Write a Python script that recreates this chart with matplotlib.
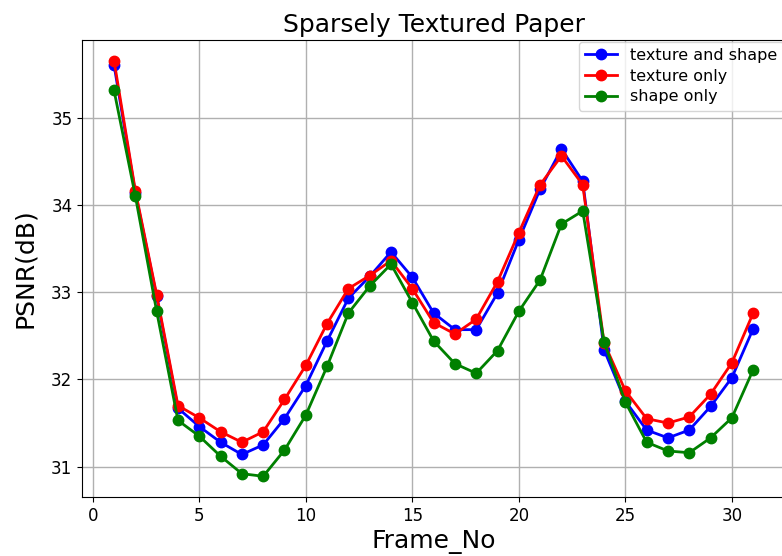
import matplotlib
matplotlib.use("Agg")
import matplotlib.pyplot as plt

frames = list(range(1, 32))

texture_and_shape = [35.60, 34.14, 32.95, 31.67, 31.46, 31.28, 31.14, 31.25, 31.55, 31.93,
                     32.44, 32.93, 33.18, 33.46, 33.17, 32.76, 32.57, 32.57, 32.99, 33.60,
                     34.18, 34.64, 34.27, 32.34, 31.75, 31.42, 31.33, 31.42, 31.69, 32.02,
                     32.58]
texture_only = [35.65, 34.16, 32.97, 31.70, 31.56, 31.40, 31.28, 31.40, 31.77, 32.16,
                32.64, 33.04, 33.19, 33.36, 33.04, 32.65, 32.52, 32.69, 33.12, 33.68,
                34.23, 34.56, 34.23, 32.42, 31.87, 31.55, 31.50, 31.57, 31.83, 32.19,
                32.76]
shape_only = [35.31, 34.10, 32.78, 31.53, 31.35, 31.12, 30.92, 30.89, 31.19, 31.59,
              32.15, 32.76, 33.07, 33.32, 32.88, 32.44, 32.18, 32.07, 32.33, 32.78,
              33.14, 33.78, 33.93, 32.43, 31.74, 31.28, 31.18, 31.16, 31.33, 31.56,
              32.11]

fig = plt.figure(figsize=(7.82, 5.56), dpi=100)
ax = fig.add_axes([0.105, 0.106, 0.899, 0.822])

ax.plot(frames, texture_and_shape, color='b', marker='o', lw=2, ms=7.5, label='texture and shape')
ax.plot(frames, texture_only, color='r', marker='o', lw=2, ms=7.5, label='texture only')
ax.plot(frames, shape_only, color='g', marker='o', lw=2, ms=7.5, label='shape only')

ax.grid(True, color='#b0b0b0', lw=1)
ax.set_axisbelow(True)
ax.set_title("Sparsely Textured Paper", fontsize=18)
ax.set_xlabel("Frame_No", fontsize=18)
ax.set_ylabel("PSNR(dB)", fontsize=18, labelpad=10)
ax.tick_params(labelsize=12)
ax.legend(loc='upper right', fontsize=11.5, borderaxespad=0.1, handlelength=2,
          labelspacing=0.35)

fig.savefig("out.png", dpi=100)
